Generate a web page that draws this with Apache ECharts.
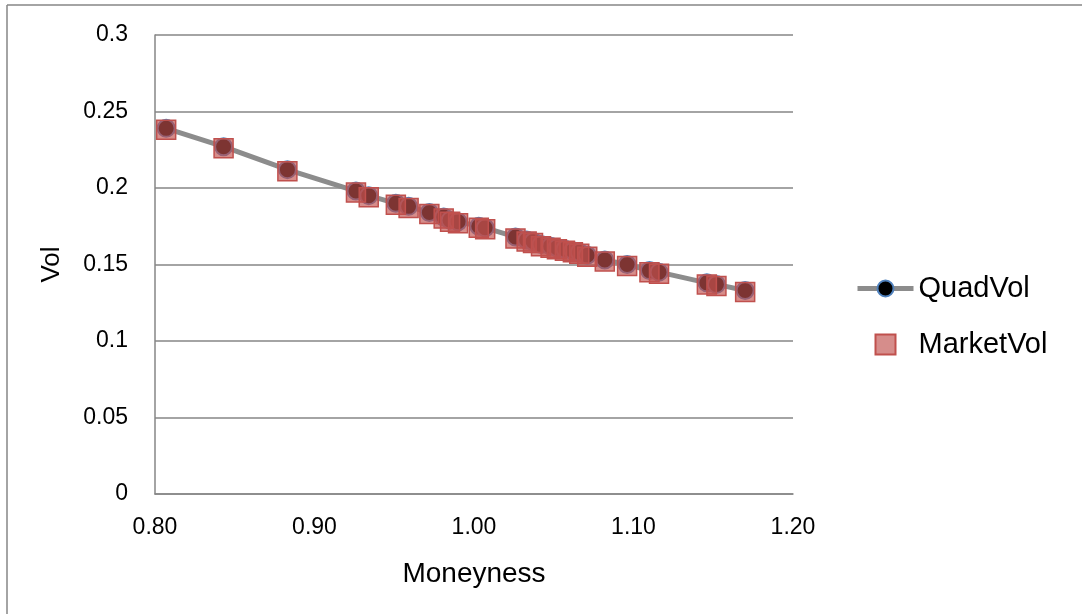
<!DOCTYPE html>
<html><head><meta charset="utf-8">
<script src="https://cdn.jsdelivr.net/npm/echarts@6/dist/echarts.min.js"></script>
<style>html,body{margin:0;padding:0;background:#fff}#c{width:1082px;height:614px}</style>
</head><body><div id="c"></div>
<script>
const moneyness = [0.807, 0.843, 0.883, 0.926, 0.934, 0.951, 0.959, 0.972, 0.981, 0.985, 0.990, 1.003, 1.007, 1.026, 1.033, 1.037, 1.042, 1.048, 1.052, 1.057, 1.062, 1.066, 1.071, 1.082, 1.096, 1.110, 1.116, 1.146, 1.152, 1.170];
const marketVol = [0.238, 0.226, 0.211, 0.197, 0.194, 0.189, 0.187, 0.183, 0.180, 0.178, 0.177, 0.174, 0.173, 0.167, 0.165, 0.164, 0.162, 0.161, 0.160, 0.159, 0.158, 0.157, 0.155, 0.152, 0.149, 0.145, 0.144, 0.137, 0.136, 0.132];
const quadVol = [0.239, 0.227, 0.212, 0.198, 0.195, 0.190, 0.188, 0.184, 0.181, 0.179, 0.178, 0.175, 0.174, 0.168, 0.166, 0.165, 0.163, 0.162, 0.161, 0.160, 0.159, 0.158, 0.156, 0.153, 0.150, 0.146, 0.145, 0.138, 0.137, 0.133];
const xTicks = {min: 0.8, max: 1.2, interval: 0.1};
const yTicks = {min: 0, max: 0.3, interval: 0.05};

const font = 'Liberation Sans, Arial, sans-serif';
const chart = echarts.init(document.getElementById('c'));
chart.setOption({
  animation: false,
  backgroundColor: '#fff',
  graphic: [
    {type: 'line', shape: {x1: 7, y1: 5, x2: 1090, y2: 5}, style: {stroke: '#868686', lineWidth: 1.5}, silent: true},
    {type: 'line', shape: {x1: 7, y1: 5, x2: 7, y2: 620}, style: {stroke: '#868686', lineWidth: 1.5}, silent: true}
  ],
  grid: {left: 155, right: 289, top: 35, bottom: 120},
  legend: {
    orient: 'vertical', left: 850, top: 269, itemWidth: 56, itemHeight: 20, itemGap: 27,
    textStyle: {fontFamily: font, fontSize: 29, color: '#000'},
    data: [
      {name: 'QuadVol', itemStyle: {color: '#000', borderColor: '#4F81BD', borderWidth: 2}, lineStyle: {color: '#8c8c8c', width: 5}},
      {name: 'MarketVol', icon: 'path://M0,0L10,0L10,10L0,10Z'}
    ]
  },
  xAxis: {
    type: 'value', min: xTicks.min, max: xTicks.max, interval: xTicks.interval,
    name: 'Moneyness', nameLocation: 'middle', nameGap: 66,
    nameTextStyle: {fontFamily: font, fontSize: 28, color: '#000'},
    axisLine: {lineStyle: {color: '#868686', width: 1.5}},
    axisTick: {show: false}, splitLine: {show: false},
    axisLabel: {fontFamily: font, fontSize: 23, color: '#000', margin: 22, formatter: v => v.toFixed(2)}
  },
  yAxis: {
    type: 'value', min: yTicks.min, max: yTicks.max, interval: yTicks.interval,
    name: 'Vol', nameLocation: 'middle', nameGap: 90, nameRotate: 90,
    nameTextStyle: {fontFamily: font, fontSize: 26, color: '#000'},
    axisLine: {show: true, lineStyle: {color: '#868686', width: 1.5}},
    axisTick: {show: false},
    splitLine: {lineStyle: {color: '#868686', width: 1.5}},
    axisLabel: {fontFamily: font, fontSize: 23, color: '#000', margin: 27, formatter: v => String(+v.toFixed(2))}
  },
  series: [
    {
      name: 'QuadVol', type: 'line', data: moneyness.map((m, i) => [m, quadVol[i]]),
      symbol: 'circle', symbolSize: 17, showAllSymbol: true,
      lineStyle: {color: '#8c8c8c', width: 5},
      itemStyle: {color: '#000', borderColor: '#4F81BD', borderWidth: 2},
      z: 2
    },
    {
      name: 'MarketVol', type: 'scatter', data: moneyness.map((m, i) => [m, marketVol[i]]),
      symbol: 'rect', symbolSize: 19,
      itemStyle: {color: 'rgba(192,80,77,0.65)', borderColor: '#C0504D', borderWidth: 1.5, opacity: 1},
      z: 3
    }
  ]
});
</script></body></html>
